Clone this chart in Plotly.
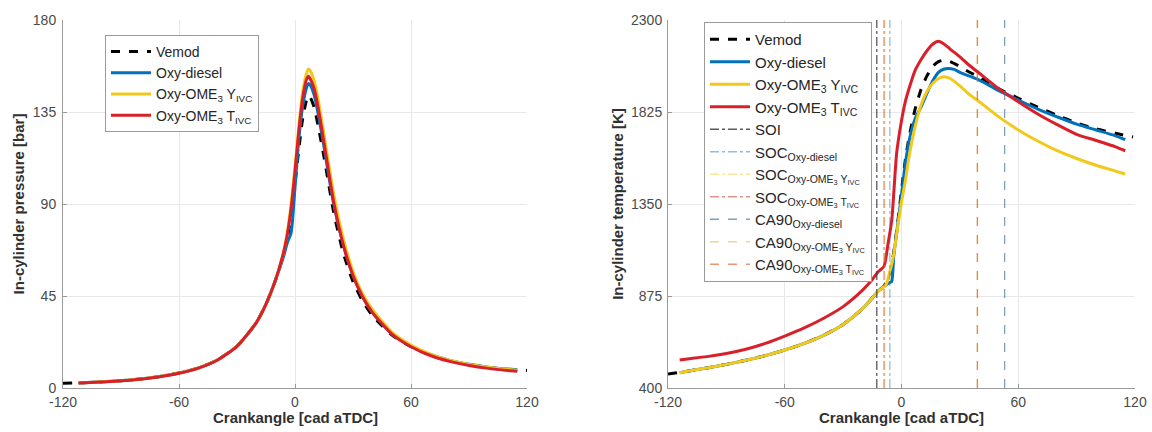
import plotly.graph_objects as go

# ---------------- data: in-cylinder pressure ----------------
cad_vemod = [-120, -110, -100, -90, -80, -70, -60, -50, -40, -30, -20, -15, -10, -6, -4, -2, 0, 2, 4, 6, 7, 8,
             10, 12, 15, 20, 25, 30, 35, 40, 50, 60, 70, 80, 90, 100, 110, 120]
p_vemod = [2.3, 2.6, 3.0, 3.6, 4.4, 5.6, 7.3, 9.8, 13.8, 20.5, 32, 41, 53, 65, 73, 84, 100, 117, 132, 141, 143, 142,
           137, 128, 113, 86, 66, 52, 42.5, 35.5, 26, 20.2, 16.1, 13.3, 11.4, 10.0, 9.1, 8.6]

cad_sim = [-112, -100, -90, -80, -70, -60, -50, -40, -30, -20, -15, -10, -6, -4, -2, 0, 2, 4, 6, 7, 8,
           10, 12, 15, 20, 25, 30, 35, 40, 50, 60, 70, 80, 90, 100, 110, 115]
p_diesel = [2.5, 3.0, 3.6, 4.4, 5.6, 7.3, 9.8, 13.8, 20.5, 32, 41, 53, 64, 71, 76, 98, 122, 138, 147, 149, 148,
            143, 134, 118, 90, 70, 55, 44.5, 37, 26.5, 20.5, 16.4, 13.5, 11.6, 10.2, 9.3, 9.0]
p_ome_y = [2.5, 3.0, 3.6, 4.4, 5.6, 7.3, 9.8, 13.8, 20.5, 32, 41, 53, 66, 76, 90, 108, 128, 145, 154, 156, 155,
           150, 141, 124, 95, 73, 57, 46, 38.5, 27.5, 21.0, 16.6, 13.6, 11.5, 10.1, 9.1, 8.8]
p_ome_t = [2.4, 2.9, 3.5, 4.3, 5.5, 7.2, 9.7, 13.7, 20.4, 32, 41, 53, 66, 75, 88, 106, 126, 142, 151, 152.5, 151,
           146, 137, 120, 91, 70, 55, 44.5, 37, 26.5, 20.2, 15.9, 13.0, 11.0, 9.6, 8.6, 8.2]

# ---------------- data: in-cylinder temperature ----------------
cad_T_vemod = [-120, -110, -100, -90, -80, -70, -60, -50, -40, -30, -20, -15, -12, -9, -6, -4, -2, 0, 2, 4, 7,
               10, 13, 16, 19, 22, 25, 30, 35, 40, 50, 60, 70, 80, 90, 100, 110, 119]
T_vemod = [472, 487, 503, 522, 543, 567, 596, 630, 672, 728, 810, 865, 900, 925, 985, 1100, 1250, 1420, 1580, 1700,
           1840, 1940, 2010, 2060, 2085, 2093, 2085, 2060, 2030, 2005, 1945, 1896, 1850, 1808, 1768, 1738, 1715, 1696]

cad_T_diesel = [-114, -110, -100, -90, -80, -70, -60, -50, -40, -30, -20, -15, -12, -9, -6, -5, -4, -2, 0, 2, 4, 7,
                10, 13, 16, 19, 22, 24, 27, 30, 35, 40, 50, 60, 70, 80, 90, 100, 110, 115]
T_diesel = [479, 487, 503, 522, 543, 567, 596, 630, 672, 728, 810, 865, 900, 925, 945, 950, 1080, 1240, 1400, 1560,
            1680, 1790, 1850, 1920, 1985, 2030, 2047, 2050, 2045, 2030, 2010, 1990, 1935, 1887, 1840, 1800, 1762,
            1732, 1702, 1682]

cad_T_ome_y = [-114, -110, -100, -90, -80, -70, -60, -50, -40, -30, -20, -15, -12, -8, -6, -4, -2, 0, 2, 4, 7,
               10, 13, 16, 19, 22, 25, 30, 35, 40, 50, 60, 70, 80, 90, 100, 110, 115]
T_ome_y = [479, 487, 503, 522, 543, 567, 596, 630, 672, 728, 810, 865, 900, 932, 1000, 1090, 1230, 1360, 1470, 1600,
           1750, 1860, 1930, 1972, 1998, 2007, 1998, 1960, 1915, 1878, 1800, 1732, 1675, 1625, 1585, 1550, 1520, 1505]

cad_T_ome_t = [-114, -110, -100, -90, -80, -70, -60, -50, -40, -30, -20, -15, -12, -9, -7, -5, -2.5, 0, 2, 4, 7,
               10, 13, 16, 19, 22, 25, 30, 35, 40, 50, 60, 70, 80, 90, 100, 110, 115]
T_ome_t = [545, 550, 562, 578, 600, 630, 668, 710, 760, 820, 905, 960, 1000, 1028, 1140, 1267, 1612, 1780, 1880, 1950,
           2040, 2095, 2140, 2175, 2190, 2175, 2150, 2110, 2065, 2025, 1945, 1878, 1815, 1760, 1710, 1678, 1645, 1625]

# event markers [cad aTDC]
soi = -12.7
soc_diesel = -6.0
soc_ome_y = -8.6
soc_ome_t = -9.0
ca90_diesel = 53.0
ca90_ome_y = 39.0
ca90_ome_t = 39.0

# axis ticks
x_ticks = [-120, -60, 0, 60, 120]
x_ticktext = ["-120", "-60", "0", "60", "120"]
p_ticks = [0, 45, 90, 135, 180]
T_ticks = [400, 875, 1350, 1825, 2300]

C_BLUE = "#0072BD"
C_YEL = "#F2C91B"
C_RED = "#D9202A"

FONT = "Liberation Sans, Arial, sans-serif"

fig = go.Figure()

def curve(x, y, name, color, xa, ya, leg, dash="solid", width=3):
    fig.add_trace(go.Scatter(x=x, y=y, name=name, mode="lines",
                             line=dict(color=color, width=width, dash=dash, shape="spline", smoothing=0.6),
                             xaxis=xa, yaxis=ya, legend=leg))

# left panel
curve(cad_vemod, p_vemod, "Vemod", "black", "x", "y", "legend", dash="dash", width=3)
curve(cad_sim, p_diesel, "Oxy-diesel", C_BLUE, "x", "y", "legend")
curve(cad_sim, p_ome_y, "Oxy-OME<sub>3</sub> Y<sub>IVC</sub>", C_YEL, "x", "y", "legend")
curve(cad_sim, p_ome_t, "Oxy-OME<sub>3</sub> T<sub>IVC</sub>", C_RED, "x", "y", "legend")

# right panel curves
curve(cad_T_vemod, T_vemod, "Vemod", "black", "x2", "y2", "legend2", dash="dash", width=3)
curve(cad_T_diesel, T_diesel, "Oxy-diesel", C_BLUE, "x2", "y2", "legend2")
curve(cad_T_ome_y, T_ome_y, "Oxy-OME<sub>3</sub> Y<sub>IVC</sub>", C_YEL, "x2", "y2", "legend2")
curve(cad_T_ome_t, T_ome_t, "Oxy-OME<sub>3</sub> T<sub>IVC</sub>", C_RED, "x2", "y2", "legend2")

T_span = [T_ticks[0], T_ticks[-1]]

def vline(x, name, color, dash):
    fig.add_trace(go.Scatter(x=[x, x], y=T_span, name=name, mode="lines",
                             line=dict(color=color, width=1.3, dash=dash),
                             xaxis="x2", yaxis="y2", legend="legend2"))

vline(soi, "SOI", "rgba(60,60,70,0.85)", "dashdot")
vline(soc_diesel, "SOC<sub>Oxy-diesel</sub>", "rgba(0,114,189,0.45)", "dashdot")
vline(soc_ome_y, "SOC<sub>Oxy-OME<sub>3</sub> Y<sub>IVC</sub></sub>", "rgba(237,200,40,0.45)", "dashdot")
vline(soc_ome_t, "SOC<sub>Oxy-OME<sub>3</sub> T<sub>IVC</sub></sub>", "rgba(200,60,40,0.55)", "dashdot")
vline(ca90_diesel, "CA90<sub>Oxy-diesel</sub>", "rgba(70,120,160,0.7)", "dash")
vline(ca90_ome_y, "CA90<sub>Oxy-OME<sub>3</sub> Y<sub>IVC</sub></sub>", "rgba(237,177,32,0.55)", "dash")
vline(ca90_ome_t, "CA90<sub>Oxy-OME<sub>3</sub> T<sub>IVC</sub></sub>", "rgba(217,83,25,0.6)", "dash")

W, H = 1152, 432
yd = [1 - 388 / H, 1 - 20 / H]

axis_common = dict(showgrid=True, gridcolor="#e8e8e8", gridwidth=1, zeroline=False,
                   showline=True, linecolor="#9a9a9a", linewidth=1, ticks="inside", ticklen=4,
                   tickcolor="#9a9a9a", tickfont=dict(family=FONT, size=14, color="#4a4a4a"),
                   automargin=False)

title_font = dict(family=FONT, size=15, color="#303030")

fig.update_layout(
    width=W, height=H,
    margin=dict(l=0, r=0, t=0, b=0),
    paper_bgcolor="white", plot_bgcolor="white",
    font=dict(family=FONT, size=14, color="#262626"),
    xaxis=dict(domain=[63 / W, 527 / W], range=[-120, 120], tickvals=x_ticks, ticktext=x_ticktext,
               anchor="y", ticklabelstandoff=1, **axis_common),
    yaxis=dict(domain=yd, range=[0, 180], tickvals=p_ticks, anchor="x", ticklabelstandoff=3,
               title=dict(text="<b>In-cylinder pressure [bar]</b>", font=title_font, standoff=4),
               **axis_common),
    xaxis2=dict(domain=[668 / W, 1135 / W], range=[-120, 120], tickvals=x_ticks, ticktext=x_ticktext,
                anchor="y2", ticklabelstandoff=1, **axis_common),
    yaxis2=dict(domain=yd, range=[400, 2300], tickvals=T_ticks, anchor="x2", ticklabelstandoff=2,
                title=dict(text="<b>In-cylinder temperature [K]</b>", font=title_font, standoff=3),
                **axis_common),
    legend=dict(x=105 / W, y=1 - 35 / H, xanchor="left", yanchor="top", bgcolor="white",
                bordercolor="#9a9a9a", borderwidth=1, font=dict(family=FONT, size=14, color="#262626"),
                tracegroupgap=0, itemwidth=40),
    legend2=dict(x=704 / W, y=1 - 22 / H, xanchor="left", yanchor="top", bgcolor="white",
                 bordercolor="#9a9a9a", borderwidth=1, font=dict(family=FONT, size=15, color="#262626"),
                 tracegroupgap=0, itemwidth=40),
    showlegend=True,
    annotations=[
        dict(text="<b>Crankangle [cad aTDC]</b>", x=(63 + 527) / 2 / W, y=1 - 417 / H, xref="paper",
             yref="paper", xanchor="center", yanchor="middle", showarrow=False, font=title_font),
        dict(text="<b>Crankangle [cad aTDC]</b>", x=(668 + 1135) / 2 / W, y=1 - 417 / H, xref="paper",
             yref="paper", xanchor="center", yanchor="middle", showarrow=False, font=title_font),
    ],
)

fig.write_html("out.html")
